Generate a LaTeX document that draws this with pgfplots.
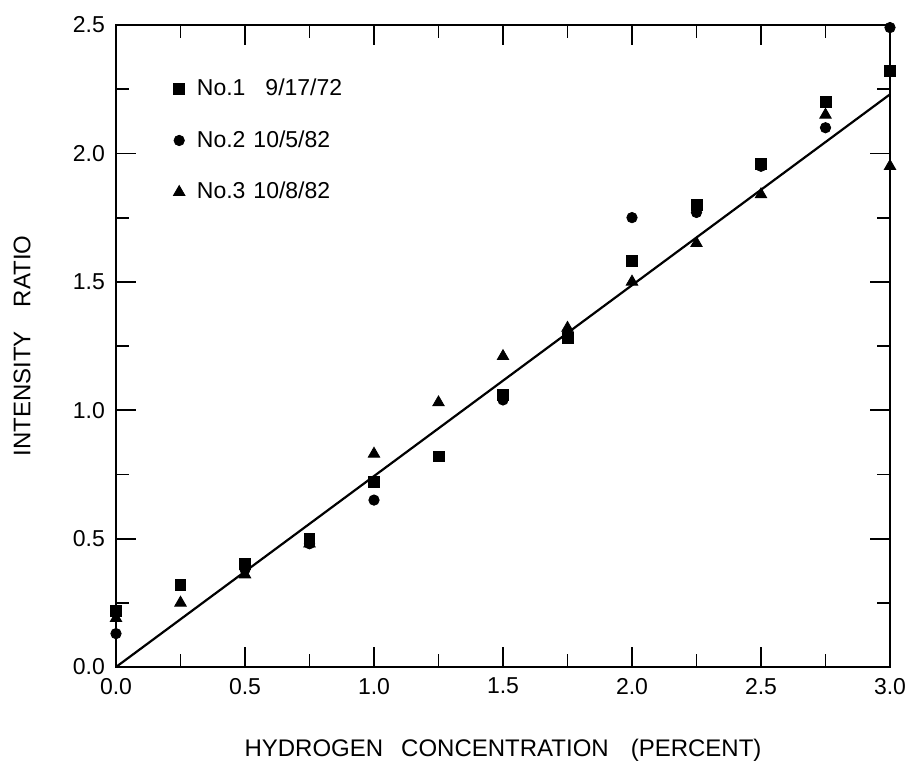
\documentclass[border=0pt]{standalone}
\usepackage{pgfplots}
\pgfplotsset{compat=1.18}
\usepackage{fontspec}
\setmainfont{Liberation Sans}

\begin{document}
\begin{tikzpicture}
\begin{axis}[
  scale only axis,
  width=387pt, height=321pt,
  xmin=0, xmax=3, ymin=0, ymax=2.5,
  clip=false,
  axis line style={line width=1.1pt},
  xtick={0,0.5,...,3}, ytick={0,0.5,...,2.5},
  minor x tick num=1, minor y tick num=1,
  tick align=inside,
  major tick length=10pt, minor tick length=6.5pt,
  every tick/.style={line width=0.9pt, black},
  tick label style={font=\fontsize{11.5}{13}\selectfont},
  /pgf/number format/assume math mode=true,
  /pgf/number format/.cd, fixed, fixed zerofill, precision=1,
  /pgfplots/.cd,
  xticklabel style={yshift=-2pt},
  yticklabel style={xshift=-2pt},
  xlabel={HYDROGEN\hspace{9pt}CONCENTRATION\hspace{11pt}(PERCENT)},
  ylabel={INTENSITY\hspace{12pt}RATIO},
  label style={font=\fontsize{12}{14}\selectfont},
  xlabel style={at={(axis description cs:0.5,0)}, anchor=center, yshift=-41.5pt},
  ylabel style={at={(axis description cs:-0.1214,0.5)}, anchor=center},
  legend style={draw=none, fill=none, at={(rel axis cs:0.066,0.929)}, anchor=north west,
    font=\fontsize{11.5}{13}\selectfont, row sep=12pt,
    /tikz/every odd column/.append style={column sep=4pt}},
  legend cell align=left,
]
% No.1, 9/17/72
\addplot[only marks, mark=square*, mark size=2.7pt, black] coordinates {
  (0.00,0.22) (0.25,0.32) (0.50,0.40) (0.75,0.50) (1.00,0.72) (1.25,0.82)
  (1.50,1.06) (1.75,1.28) (2.00,1.58) (2.25,1.80) (2.50,1.96) (2.75,2.20)
  (3.00,2.32)};
% No.2, 10/5/82
\addplot[only marks, mark=*, mark size=2.6pt, black] coordinates {
  (0.00,0.13) (0.50,0.38) (0.75,0.48) (1.00,0.65) (1.50,1.04) (1.75,1.30)
  (2.00,1.75) (2.25,1.77) (2.50,1.95) (2.75,2.10) (3.00,2.49)};
% No.3, 10/8/82
\addplot[only marks, mark=triangle*, mark size=3.3pt, black] coordinates {
  (0.00,0.19) (0.25,0.25) (0.50,0.36) (0.75,0.48) (1.00,0.83) (1.25,1.03)
  (1.50,1.21) (1.75,1.32) (2.00,1.50) (2.25,1.65) (2.50,1.84) (2.75,2.15)
  (3.00,1.95)};
% least-squares line
\addplot[black, line width=1.1pt, forget plot] coordinates {(0,0) (3,2.23)};
\legend{No.1\hspace{10pt}9/17/72, No.2\hspace{4pt}10/5/82, No.3\hspace{4pt}10/8/82}
\end{axis}
\pgfresetboundingbox
\path ([xshift=-58pt,yshift=-50pt]current axis.south west)
  rectangle ([xshift=10.5pt,yshift=12.5pt]current axis.north east);
\end{tikzpicture}
\end{document}
